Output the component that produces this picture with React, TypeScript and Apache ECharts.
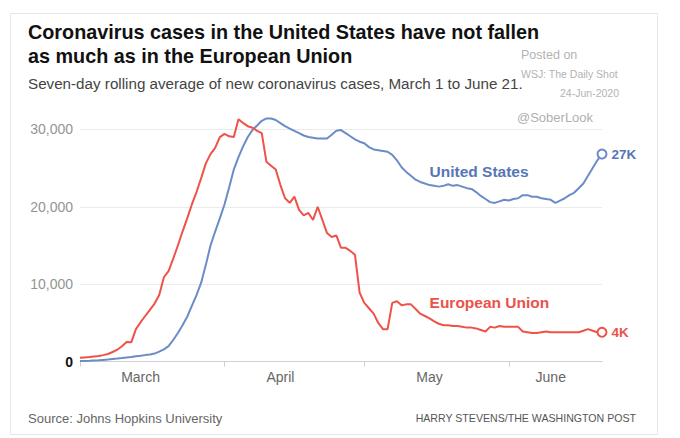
import React, { useEffect, useRef } from "react";
import * as echarts from "echarts";

const monthSpans: [string, number][] = [["Mar", 31], ["Apr", 30], ["May", 31], ["Jun", 21]];
const dates: string[] = monthSpans.flatMap(([m, n]) =>
  Array.from({ length: n }, (_, i) => `${m} ${i + 1}`)
);

const monthLabels = ["March", "April", "May", "June"];
const monthLabelIdx = [13, 43, 75, 101];
const monthStartIdx = [0, 31, 61, 92];

const yTicks = [0, 10000, 20000, 30000];

const usCases = [
  100, 100, 120, 150, 180, 230, 280, 340, 400, 470,
  550, 620, 700, 760, 850, 930, 1050, 1300, 1600, 2000,
  2800, 3700, 4700, 5800, 7200, 8600, 10200, 12500, 15000, 16800,
  18500, 20300, 22500, 24800, 26400, 27800, 29000, 29900, 30500, 31100,
  31400, 31400, 31200, 30800, 30400, 30100, 29800, 29500, 29200, 29000,
  28900, 28800, 28800, 28800, 29300, 29800, 29900, 29500, 29100, 28700,
  28400, 28200, 27700, 27400, 27300, 27200, 27100, 26700, 26000, 25100,
  24500, 24000, 23500, 23200, 23000, 22800, 22700, 22600, 22700, 22900,
  22700, 22800, 22600, 22400, 22300, 21900, 21400, 21000, 20600, 20500,
  20700, 20900, 20800, 21000, 21100, 21500, 21500, 21300, 21300, 21100,
  21000, 20900, 20500, 20800, 21100, 21500, 21800, 22400, 23000, 24000,
  25000, 26000, 26800,
];

const euCases = [
  500, 550, 600, 680, 740, 850, 1000, 1250, 1550, 2000,
  2550, 2500, 4200, 5100, 5900, 6700, 7500, 8600, 10900, 11700,
  13300, 15000, 16800, 18500, 20300, 21900, 23700, 25600, 26800, 27600,
  29000, 29400, 29100, 29000, 31300, 30800, 30400, 30200, 29800, 29500,
  25800, 25300, 24800, 22800, 21100, 20500, 21300, 19600, 18900, 19200,
  18300, 20000, 18300, 16600, 16100, 16300, 14700, 14700, 14300, 13800,
  8900, 7600, 6900, 6200, 5000, 4200, 4200, 7600, 7800, 7300,
  7400, 7400, 6800, 6200, 5900, 5600, 5200, 4900, 4700, 4700,
  4600, 4600, 4500, 4400, 4400, 4300, 4100, 3900, 4500, 4400,
  4600, 4500, 4500, 4500, 4500, 3900, 3800, 3700, 3700, 3800,
  3900, 3800, 3800, 3800, 3800, 3800, 3800, 3800, 4000, 4200,
  4000, 3800, 3800,
];

const usName = "United States";
const euName = "European Union";
const usEndLabel = "27K";
const euEndLabel = "4K";
const usLabelAt = { idx: 75, value: 24600 };
const euLabelAt = { idx: 75, value: 7600 };

const US_LINE = "#6b8cc7";
const US_TEXT = "#5676b6";
const EU_LINE = "#ee5249";
const EU_TEXT = "#e9534a";
const FONT = "Liberation Sans";

function marks(values: number[], lineColor: string, textColor: string, name: string, at: { idx: number; value: number }, endText: string) {
  const last = values.length - 1;
  return {
    silent: true,
    data: [
      {
        coord: [dates[at.idx], at.value],
        symbol: "circle",
        symbolSize: 0,
        label: {
          show: true,
          position: "right",
          distance: 0,
          formatter: name,
          color: textColor,
          fontFamily: FONT,
          fontWeight: "bold",
          fontSize: 15.5,
        },
      },
      {
        coord: [dates[last], values[last]],
        symbol: "circle",
        symbolSize: 9,
        itemStyle: { color: "#fff", borderColor: lineColor, borderWidth: 2 },
        label: {
          show: true,
          position: "right",
          distance: 4,
          formatter: endText,
          color: textColor,
          fontFamily: FONT,
          fontWeight: "bold",
          fontSize: 13.5,
        },
      },
    ],
  };
}

export default function App() {
  const ref = useRef<HTMLDivElement>(null);
  useEffect(() => {
    if (!ref.current) return;
    const chart = echarts.init(ref.current, undefined, { renderer: "svg" });
    const font = FONT;
    chart.setOption({
      animation: false,
      backgroundColor: "#fff",
      grid: { left: 80, right: 78, top: 129.3, bottom: 76.3, containLabel: false },
      xAxis: {
        type: "category",
        data: dates,
        boundaryGap: false,
        axisLine: { show: true, lineStyle: { color: "#d0d0d0", width: 1 } },
        axisTick: {
          show: true,
          length: 5,
          interval: (i: number) => monthStartIdx.includes(i),
          lineStyle: { color: "#cfcfcf" },
        },
        axisLabel: {
          interval: (i: number) => monthLabelIdx.includes(i),
          formatter: (_v: string, i: number) => {
            const k = monthLabelIdx.indexOf(i);
            return k >= 0 ? monthLabels[k] : "";
          },
          color: "#666",
          fontFamily: font,
          fontSize: 14,
          margin: 8,
        },
        splitLine: { show: false },
      },
      yAxis: {
        type: "value",
        min: yTicks[0],
        max: yTicks[yTicks.length - 1],
        interval: 10000,
        axisLine: { show: false },
        axisTick: { show: false },
        splitLine: { lineStyle: { color: "#ebebeb", width: 1 } },
        axisLabel: {
          margin: 7,
          fontFamily: font,
          fontSize: 14,
          color: "#949494",
          formatter: (v: number) => (v === 0 ? "{z|0}" : v.toLocaleString("en-US")),
          rich: {
            z: { fontFamily: font, fontSize: 14, fontWeight: "bold", color: "#111" },
          },
        },
      },
      series: [
        {
          name: usName,
          type: "line",
          data: usCases,
          showSymbol: false,
          clip: false,
          lineStyle: { color: US_LINE, width: 2 },
          itemStyle: { color: US_LINE },
          z: 3,
          markPoint: marks(usCases, US_LINE, US_TEXT, usName, usLabelAt, usEndLabel),
        },
        {
          name: euName,
          type: "line",
          data: euCases,
          showSymbol: false,
          clip: false,
          lineStyle: { color: EU_LINE, width: 2 },
          itemStyle: { color: EU_LINE },
          z: 4,
          markPoint: marks(euCases, EU_LINE, EU_TEXT, euName, euLabelAt, euEndLabel),
        },
      ],
      graphic: [
        {
          type: "rect",
          z: -10,
          silent: true,
          shape: { x: 10.5, y: 13.5, width: 647, height: 421 },
          style: { fill: "none", stroke: "#e6e6e6", lineWidth: 1 },
        },
        {
          type: "text",
          x: 28,
          y: 32,
          style: {
            text: "Coronavirus cases in the United States have not fallen",
            fontFamily: font,
            fontWeight: "bold",
            fontSize: 19.8,
            fill: "#111",
            verticalAlign: "middle",
          },
        },
        {
          type: "text",
          x: 28,
          y: 56,
          style: {
            text: "as much as in the European Union",
            fontFamily: font,
            fontWeight: "bold",
            fontSize: 19.8,
            fill: "#111",
            verticalAlign: "middle",
          },
        },
        {
          type: "text",
          x: 28,
          y: 83,
          style: {
            text: "Seven-day rolling average of new coronavirus cases, March 1 to June 21.",
            fontFamily: font,
            fontSize: 15.2,
            fill: "#444",
            verticalAlign: "middle",
          },
        },
        {
          type: "text",
          x: 521,
          y: 55,
          style: { text: "Posted on", fontFamily: font, fontSize: 12.5, fill: "#b3b3b3", verticalAlign: "middle" },
        },
        {
          type: "text",
          x: 521,
          y: 74,
          style: { text: "WSJ: The Daily Shot", fontFamily: font, fontSize: 10.5, fill: "#b3b3b3", verticalAlign: "middle" },
        },
        {
          type: "text",
          x: 619,
          y: 93,
          style: { text: "24-Jun-2020", fontFamily: font, fontSize: 10.5, fill: "#b3b3b3", align: "right", verticalAlign: "middle" },
        },
        {
          type: "text",
          x: 517,
          y: 117,
          style: { text: "@SoberLook", fontFamily: font, fontSize: 13, fill: "#b0b0b0", verticalAlign: "middle" },
        },
        {
          type: "text",
          x: 28,
          y: 418,
          style: { text: "Source: Johns Hopkins University", fontFamily: font, fontSize: 13, fill: "#666", verticalAlign: "middle" },
        },
        {
          type: "text",
          x: 636,
          y: 418,
          style: {
            text: "HARRY STEVENS/THE WASHINGTON POST",
            fontFamily: font,
            fontSize: 10.6,
            fill: "#555",
            align: "right",
            verticalAlign: "middle",
          },
        },
      ],
    });
    return () => chart.dispose();
  }, []);
  return (
    <div
      ref={ref}
      style={{ position: "fixed", left: 0, top: 0, width: 680, height: 438 }}
    />
  );
}
